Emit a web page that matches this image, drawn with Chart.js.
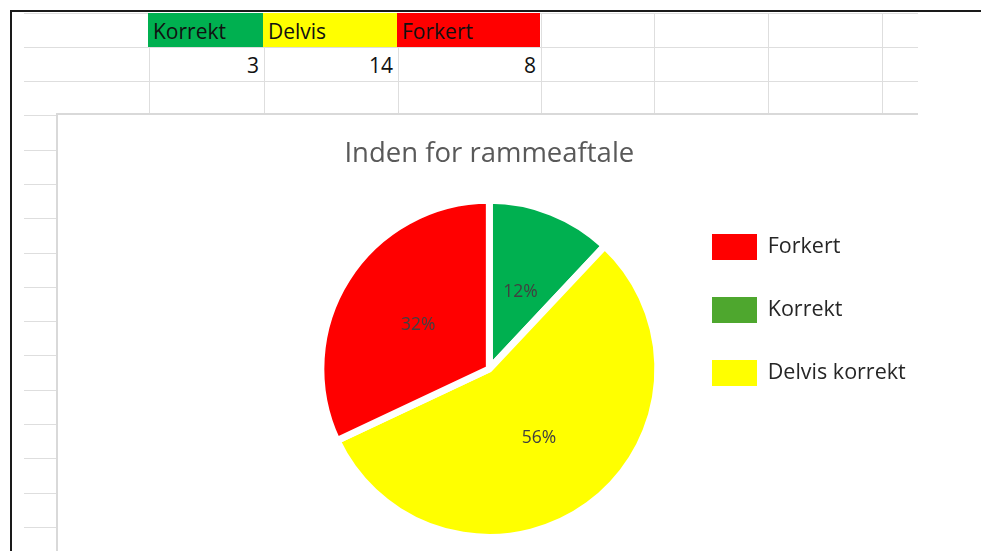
<!DOCTYPE html>
<html>
<head>
<meta charset="utf-8">
<script src="https://cdn.jsdelivr.net/npm/chart.js@4"></script>
<style>
  html, body { margin: 0; padding: 0; background: #fff; }
  body { width: 981px; height: 551px; overflow: hidden; position: relative; font-family: "Open Sans", sans-serif; }
  .ln { position: absolute; background: #dedede; }
  .blk { position: absolute; background: #1a1a1a; }
  .cell { position: absolute; box-sizing: border-box; height: 34px; line-height: 34px; padding-top: 1px; font-size: 21px; color: #111; white-space: nowrap; }
  .hdr { padding-left: 5px; }
  .val { text-align: right; padding-right: 5px; }
  #frame { position: absolute; left: 56px; top: 113px; width: 862px; height: 460px; box-sizing: border-box;
           border-left: 2px solid #d9d9d9; border-top: 2px solid #d9d9d9; background: #fff; }
  #chart { position: absolute; left: 0; top: 0; }
</style>
</head>
<body>
<div id="sheet"></div>
<div id="frame"></div>
<canvas id="chart" width="981" height="551"></canvas>
<script>
// ---- data ----
const tableHeaders = ['Korrekt', 'Delvis', 'Forkert'];
const tableValues = [3, 14, 8];
const categories = ['Korrekt', 'Delvis korrekt', 'Forkert'];
const values = [3, 14, 8];
const sliceColors = ['#00B050', '#FFFF00', '#FF0000'];
const legendLabels = ['Forkert', 'Korrekt', 'Delvis korrekt'];
const legendColors = ['#FF0000', '#4EA72E', '#FFFF00'];
const chartTitle = 'Inden for rammeaftale';

// ---- spreadsheet backdrop (layout only) ----
const sheet = document.getElementById('sheet');
function add(cls, l, t, w, h, bg) {
  const d = document.createElement('div');
  d.className = cls;
  d.style.left = l + 'px'; d.style.top = t + 'px';
  d.style.width = w + 'px'; d.style.height = h + 'px';
  if (bg) d.style.background = bg;
  sheet.appendChild(d);
  return d;
}
const colX = [149, 264, 398, 541, 654, 768, 882];
[13, 47, 81].forEach(y => add('ln', 24, y, 894, 1));
[115, 150, 184, 218, 253, 287, 321, 355, 390, 424, 458, 493, 527].forEach(y => add('ln', 24, y, 33, 1));
colX.forEach(x => add('ln', x, 13, 1, 101));
add('blk', 10, 10, 971, 1.5);
add('blk', 10, 10, 1.5, 541);

const hdrBg = ['#00B050', '#FFFF00', '#FF0000'];
tableHeaders.forEach((h, i) => {
  const c = add('cell hdr', colX[i] - 1, 13, colX[i + 1] - colX[i], 34, hdrBg[i]);
  c.style.height = '34px';
  c.textContent = h;
});
tableValues.forEach((v, i) => {
  const c = add('cell val', colX[i], 47, colX[i + 1] - colX[i], 34);
  c.style.height = '34px';
  c.textContent = v;
});

// ---- chart ----
const FONT = '"Open Sans", sans-serif';
Chart.defaults.font.family = FONT;
const legendFont = 21.5;
const legendBox = 45;
const legendPad = 37;
const mctx = document.createElement('canvas').getContext('2d');
mctx.font = legendFont + 'px ' + FONT;
const maxText = Math.max(...legendLabels.map(t => mctx.measureText(t).width));
const legendLeft = 712 - legendPad;
const legendWidth = legendPad + legendBox + legendFont / 2 + maxText + 10;
const padRight = 981 - legendLeft - legendWidth;
const cx = 489.35;
const padLeft = 2 * cx - legendLeft;

const pctLabels = {
  id: 'pctLabels',
  afterDatasetsDraw(chart) {
    const ctx = chart.ctx;
    const meta = chart.getDatasetMeta(0);
    const total = values.reduce((a, b) => a + b, 0);
    ctx.save();
    ctx.font = '17.5px ' + FONT;
    ctx.fillStyle = '#404040';
    ctx.textAlign = 'center';
    ctx.textBaseline = 'middle';
    meta.data.forEach((arc, i) => {
      const p = arc.getCenterPoint();
      ctx.fillText(Math.round(values[i] / total * 100) + '%', p.x, p.y + 1);
    });
    ctx.restore();
  }
};

new Chart(document.getElementById('chart'), {
  type: 'pie',
  data: {
    labels: categories,
    datasets: [{
      data: values,
      backgroundColor: sliceColors,
      borderColor: '#ffffff',
      borderWidth: 7,
      hoverOffset: 0,
      clip: false
    }]
  },
  options: {
    responsive: false,
    animation: false,
    devicePixelRatio: 1,
    radius: 168.5,
    layout: { padding: { left: padLeft, right: padRight, top: 69, bottom: 0 } },
    events: [],
    plugins: {
      tooltip: { enabled: false },
      title: {
        display: true,
        text: chartTitle,
        fullSize: false,
        color: '#595959',
        font: { size: 27.5, weight: 'normal', family: FONT },
        padding: { top: 69, bottom: 15.7 }
      },
      legend: {
        position: 'right',
        align: 'center',
        labels: {
          boxWidth: legendBox,
          boxHeight: 26,
          padding: legendPad,
          color: '#262626',
          font: { size: legendFont, family: FONT },
          generateLabels: () => legendLabels.map((t, i) => ({
            text: t,
            fillStyle: legendColors[i],
            strokeStyle: legendColors[i],
            lineWidth: 0,
            hidden: false,
            fontColor: '#262626',
            index: categories.indexOf(t)
          }))
        }
      }
    }
  },
  plugins: [pctLabels]
});
</script>
</body>
</html>
